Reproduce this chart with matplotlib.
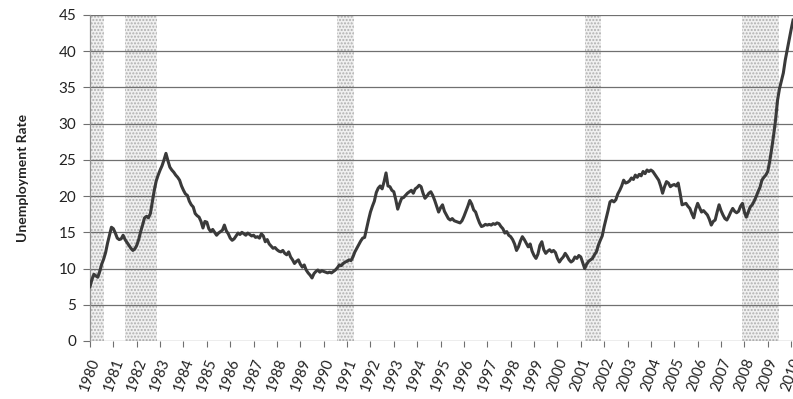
import matplotlib
matplotlib.use("Agg")
import matplotlib.pyplot as plt
import numpy as np

plt.rcParams['font.family'] = ['Lato', 'DejaVu Sans']

# Monthly unemployment rate, Jan 1980 .. Feb 2010
rate_by_year = {
    1980: [7.5, 8.5, 9.2, 9.0, 8.8, 9.6, 10.6, 11.3, 12.2, 13.5, 14.6, 15.7],
    1981: [15.5, 14.9, 14.2, 14.0, 14.1, 14.6, 14.0, 13.6, 13.2, 12.8, 12.5, 12.7],
    1982: [13.2, 14.0, 15.1, 16.0, 17.0, 17.2, 17.0, 17.6, 19.2, 20.8, 22.1, 22.9],
    1983: [23.6, 24.2, 25.0, 25.9, 24.9, 24.0, 23.6, 23.3, 22.9, 22.6, 22.2, 21.4],
    1984: [20.8, 20.3, 20.1, 19.3, 18.8, 18.5, 17.6, 17.3, 17.1, 16.5, 15.6, 16.5],
    1985: [16.4, 15.5, 15.1, 15.4, 15.0, 14.6, 14.9, 15.1, 15.3, 16.0, 15.2, 14.8],
    1986: [14.2, 13.9, 14.1, 14.5, 14.9, 14.7, 15.0, 14.8, 14.6, 14.9, 14.7, 14.5],
    1987: [14.6, 14.3, 14.4, 14.2, 14.8, 14.5, 13.7, 14.0, 13.4, 13.1, 12.8, 12.9],
    1988: [12.6, 12.4, 12.3, 12.5, 12.1, 11.9, 12.3, 11.6, 11.2, 10.7, 11.0, 11.2],
    1989: [10.6, 10.2, 10.5, 9.8, 9.4, 9.1, 8.7, 9.3, 9.6, 9.8, 9.5, 9.7],
    1990: [9.6, 9.5, 9.4, 9.5, 9.4, 9.6, 9.8, 10.1, 10.5, 10.4, 10.7, 10.9],
    1991: [11.0, 11.2, 11.1, 11.6, 12.3, 12.8, 13.3, 13.8, 14.2, 14.3, 15.5, 16.7],
    1992: [17.8, 18.6, 19.3, 20.5, 21.1, 21.4, 21.0, 22.0, 23.2, 21.4, 21.3, 20.8],
    1993: [20.6, 19.5, 18.2, 19.0, 19.7, 19.8, 20.1, 20.4, 20.6, 20.8, 20.4, 21.0],
    1994: [21.2, 21.5, 21.3, 20.4, 19.7, 20.0, 20.4, 20.6, 20.1, 19.4, 18.6, 17.8],
    1995: [18.4, 18.8, 17.9, 17.4, 16.9, 16.7, 16.9, 16.6, 16.5, 16.4, 16.3, 16.6],
    1996: [17.2, 17.9, 18.6, 19.4, 18.9, 18.1, 17.8, 17.0, 16.3, 15.8, 15.9, 16.1],
    1997: [16.0, 16.1, 16.0, 16.2, 16.1, 16.3, 16.2, 15.8, 15.5, 14.9, 15.1, 14.6],
    1998: [14.4, 14.0, 13.4, 12.5, 13.0, 13.8, 14.4, 14.0, 13.5, 13.0, 13.4, 12.4],
    1999: [11.8, 11.4, 12.0, 13.2, 13.7, 12.6, 12.1, 12.4, 12.6, 12.3, 12.5, 12.2],
    2000: [11.4, 10.9, 11.3, 11.6, 12.1, 11.7, 11.2, 10.9, 11.1, 11.6, 11.4, 11.8],
    2001: [11.6, 10.8, 10.0, 10.6, 11.0, 11.2, 11.4, 11.9, 12.3, 13.2, 13.9, 14.5],
    2002: [15.8, 16.9, 18.0, 19.2, 19.4, 19.2, 19.5, 20.3, 20.8, 21.4, 22.2, 21.8],
    2003: [21.9, 22.1, 22.5, 22.3, 22.9, 22.6, 23.0, 22.8, 23.4, 23.1, 23.6, 23.4],
    2004: [23.6, 23.4, 23.0, 22.6, 22.2, 21.4, 20.4, 21.3, 22.0, 21.8, 21.3, 21.5],
    2005: [21.6, 21.4, 21.8, 20.4, 18.8, 18.9, 19.0, 18.6, 18.3, 17.6, 17.0, 18.2],
    2006: [19.0, 18.4, 17.8, 18.0, 17.7, 17.4, 16.8, 16.0, 16.5, 16.7, 17.8, 18.8],
    2007: [18.0, 17.4, 16.9, 16.7, 17.2, 17.8, 18.3, 17.9, 17.7, 17.9, 18.6, 19.0],
    2008: [17.8, 17.1, 17.8, 18.5, 18.8, 19.3, 19.9, 20.6, 21.2, 22.2, 22.6, 22.9],
    2009: [23.4, 24.8, 26.5, 28.4, 30.5, 33.2, 34.8, 35.9, 37.0, 38.8, 40.2, 41.6],
    2010: [43.0, 44.3],
}

# Recession periods (start, end) in fractional years
recessions = [(1980.0, 1980.6), (1981.5, 1982.85), (1990.58, 1991.3),
              (2001.2, 2001.85), (2007.9, 2009.5)]

years = list(range(1980, 2011))
yticks = [0, 5, 10, 15, 20, 25, 30, 35, 40, 45]

# Build the monthly time axis
t = []
rate = []
for yr, vals in rate_by_year.items():
    for m, v in enumerate(vals):
        t.append(yr + m / 12.0)
        rate.append(v)
t = np.array(t)
rate = np.array(rate)

fig = plt.figure(figsize=(7.93, 3.99), dpi=100)
ax = fig.add_axes([90/793, 58/399, 703/793, 326/399])

for start, end in recessions:
    ax.axvspan(start, end, facecolor='#f0f0f0', edgecolor='#b0b0b0',
               hatch='.....', lw=0, zorder=0)

for y in yticks:
    ax.axhline(y, color='#707070', lw=0.9, zorder=1)

ax.plot(t, rate, color='#3a3a3a', lw=2.2, zorder=3, solid_joinstyle='round')

ax.set_xlim(1980, 2010.08)
ax.set_ylim(0, 45)
ax.set_xticks(years)
ax.set_xticklabels([str(y) for y in years], rotation=70, ha='center',
                   fontsize=10.5, color='#222222')
ax.set_yticks(yticks)
ax.set_yticklabels([str(y) for y in yticks], fontsize=11, color='#222222')
ax.tick_params(axis='x', length=4, color='#707070', pad=7)
ax.tick_params(axis='y', length=5, color='#707070', pad=5)

for side in ['top', 'right', 'bottom']:
    ax.spines[side].set_visible(False)
ax.spines['left'].set_color('#909090')
ax.spines['left'].set_linewidth(0.9)

ax.set_ylabel('Unemployment Rate', fontsize=10, fontweight='bold',
              color='#222222', labelpad=21)

fig.savefig('out.png', dpi=100)
